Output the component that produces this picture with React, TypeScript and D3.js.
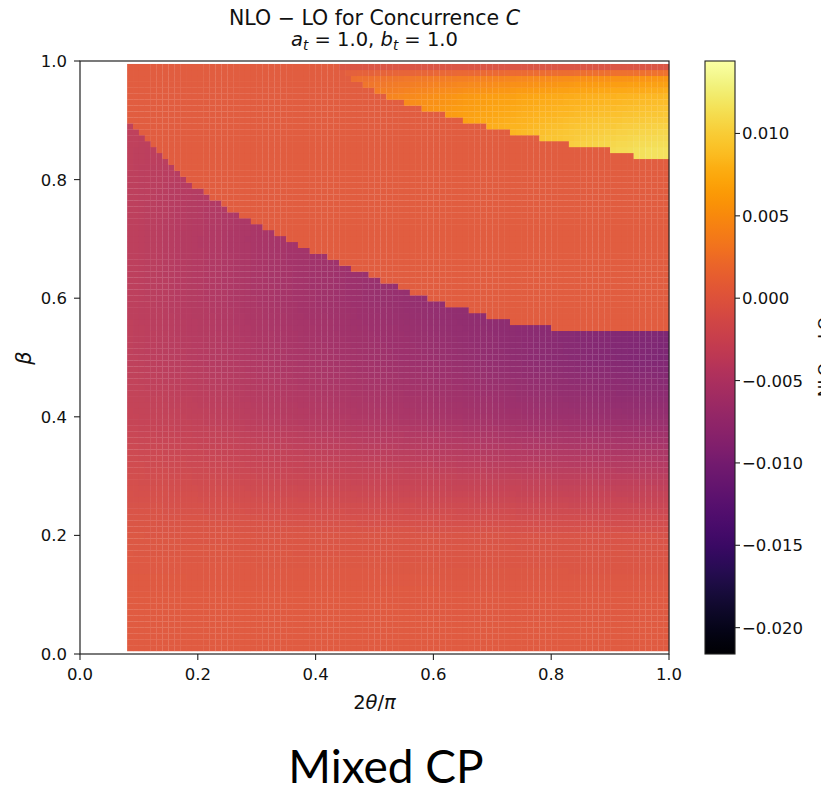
import React from "react";
import * as d3 from "d3";

// ---- data ----
// lower (purple) region: cells with beta below this boundary
const lowerBoundaryX = [0.08, 0.1, 0.15, 0.2, 0.25, 0.3, 0.35, 0.4, 0.45, 0.5, 0.55, 0.6, 0.65, 0.7, 0.75, 0.8, 0.85, 0.9, 0.95, 1.0];
const lowerBoundaryBeta = [0.9, 0.88, 0.83, 0.785, 0.752, 0.725, 0.7, 0.677, 0.655, 0.635, 0.615, 0.597, 0.582, 0.568, 0.556, 0.55, 0.545, 0.541, 0.541, 0.541];

// upper (yellow) region: cells with beta above this boundary
const upperBoundaryX = [0.44, 0.47, 0.5, 0.55, 0.6, 0.65, 0.7, 0.75, 0.8, 0.85, 0.9, 0.93, 0.95, 1.0];
const upperBoundaryBeta = [0.99, 0.965, 0.95, 0.93, 0.915, 0.9, 0.887, 0.875, 0.865, 0.857, 0.85, 0.846, 0.838, 0.838];

// field values sampled in the lower region (rows = beta, cols = x)
const lowFieldX = [0.08, 0.2, 0.35, 0.5, 0.65, 0.8, 1.0];
const lowFieldBeta = [0.0, 0.1, 0.2, 0.3, 0.4, 0.5, 0.6, 0.7, 0.8, 0.9];
const lowFieldValues = [
  [0.0003, 0.0003, 0.0003, 0.0003, 0.0003, 0.0003, 0.0003],
  [0.0002, 0.0002, 0.0002, 0.0002, 0.0001, 0.0001, 0.0001],
  [-0.0002, -0.0003, -0.0004, -0.0005, -0.0006, -0.0007, -0.0008],
  [-0.0014, -0.0018, -0.0024, -0.0028, -0.0032, -0.0036, -0.004],
  [-0.0028, -0.0034, -0.0044, -0.0052, -0.006, -0.0068, -0.0075],
  [-0.0035, -0.0043, -0.0054, -0.0064, -0.0074, -0.0085, -0.0096],
  [-0.0036, -0.0046, -0.0059, -0.0071, -0.008, -0.0088, -0.0096],
  [-0.0036, -0.0047, -0.006, -0.0071, -0.008, -0.0088, -0.0096],
  [-0.0036, -0.0045, -0.0058, -0.0068, -0.0078, -0.0086, -0.0094],
  [-0.0034, -0.0042, -0.0054, -0.0065, -0.0075, -0.0084, -0.0092],
];

// field values sampled in the upper region
const upFieldX = [0.44, 0.55, 0.65, 0.75, 0.85, 0.95, 1.0];
const upFieldBeta = [0.83, 0.85, 0.88, 0.91, 0.94, 0.97, 0.99];
const upFieldValues = [
  [0.0036, 0.0056, 0.0074, 0.009, 0.0104, 0.0114, 0.0116],
  [0.0036, 0.0056, 0.0074, 0.009, 0.0104, 0.0114, 0.0116],
  [0.0035, 0.0053, 0.007, 0.0084, 0.0097, 0.0105, 0.0107],
  [0.0033, 0.005, 0.0064, 0.0076, 0.0086, 0.0093, 0.0095],
  [0.003, 0.0045, 0.0058, 0.0068, 0.0076, 0.0082, 0.0084],
  [0.002, 0.003, 0.0038, 0.0045, 0.0052, 0.0056, 0.0058],
  [-0.0005, -0.0005, -0.0005, -0.0005, -0.0005, -0.0005, -0.0005],
];

const middleValue = 0.0004;

const xTicks = [0.0, 0.2, 0.4, 0.6, 0.8, 1.0];
const yTicks = [0.0, 0.2, 0.4, 0.6, 0.8, 1.0];
const cbTicks = [0.01, 0.005, 0.0, -0.005, -0.01, -0.015, -0.02];
const cbDomain = [-0.0216, 0.0144];
const thetaRange = [0.08, 1.0];
const betaRange = [0.005, 0.995];
const cellStep = 0.01;

// ---- helpers ----
function interp1(xs: number[], ys: number[], x: number) {
  if (x <= xs[0]) return ys[0];
  if (x >= xs[xs.length - 1]) return ys[ys.length - 1];
  const i = d3.bisectRight(xs, x) - 1;
  const t = (x - xs[i]) / (xs[i + 1] - xs[i]);
  return ys[i] + t * (ys[i + 1] - ys[i]);
}
function lookup2(xs: number[], bs: number[], grid: number[][], x: number, b: number) {
  const rows = grid.map((row) => interp1(xs, row, x));
  return interp1(bs, rows, b);
}
function fieldValue(x: number, b: number) {
  const U = x >= upperBoundaryX[0] ? interp1(upperBoundaryX, upperBoundaryBeta, x) : 2;
  const L = interp1(lowerBoundaryX, lowerBoundaryBeta, x);
  if (b > U) return lookup2(upFieldX, upFieldBeta, upFieldValues, x, b);
  if (b < L) return lookup2(lowFieldX, lowFieldBeta, lowFieldValues, x, b);
  return middleValue;
}

const fmt1 = d3.format(".1f");
const fmtCb = (v: number) => d3.format(".3f")(v).replace("-", "\u2212");

export default function App() {
  const left = 80, right = 669, top = 61, bottom = 654;
  const xs = d3.scaleLinear().domain([0, 1]).range([left, right]);
  const ys = d3.scaleLinear().domain([0, 1]).range([bottom, top]);
  const color = d3.scaleSequential(d3.interpolateInferno).domain(cbDomain as [number, number]);

  const nx = Math.round((thetaRange[1] - thetaRange[0]) / cellStep);
  const ny = Math.round((betaRange[1] - betaRange[0]) / cellStep);
  const cells: { x0: number; x1: number; y0: number; y1: number; c: string }[] = [];
  for (let i = 0; i < nx; i++) {
    const xa = thetaRange[0] + i * cellStep;
    const xc = xa + cellStep / 2;
    for (let j = 0; j < ny; j++) {
      const ba = betaRange[0] + j * cellStep;
      const bc = ba + cellStep / 2;
      cells.push({ x0: xs(xa), x1: xs(xa + cellStep), y0: ys(ba + cellStep), y1: ys(ba), c: color(fieldValue(xc, bc)) });
    }
  }
  const ov = 0.2;

  const cbLeft = 705, cbRight = 735;
  const cy = d3.scaleLinear().domain(cbDomain).range([bottom, top]);
  const stops = d3.range(0, 1.0001, 0.02);

  const font = "DejaVu Sans, sans-serif";
  return (
    <div style={{ position: "absolute", left: 0, top: 0 }}>
      <svg width={821} height={793} style={{ display: "block", background: "#fff" }} fontFamily={font}>
        <defs>
          <linearGradient id="cbgrad" x1="0" y1="1" x2="0" y2="0">
            {stops.map((s) => (
              <stop key={s} offset={s} stopColor={d3.interpolateInferno(s)} />
            ))}
          </linearGradient>
        </defs>
        {/* title */}
        <text x={374.5} y={25} textAnchor="middle" fontSize={20.5} fill="#111">
          NLO − LO for Concurrence <tspan fontStyle="italic">C</tspan>
        </text>
        <text x={374.5} y={46} textAnchor="middle" fontSize={19.5} fill="#111">
          <tspan fontStyle="italic">a</tspan>
          <tspan fontStyle="italic" fontSize={13.5} dy={4}>t</tspan>
          <tspan dy={-4}> = 1.0, </tspan>
          <tspan fontStyle="italic">b</tspan>
          <tspan fontStyle="italic" fontSize={13.5} dy={4}>t</tspan>
          <tspan dy={-4}> = 1.0</tspan>
        </text>

        {/* heatmap */}
        <g opacity={0.95}>
          {cells.map((d, k) => (
            <rect key={k} x={d.x0} y={d.y0} width={d.x1 - d.x0 + ov} height={d.y1 - d.y0 + ov} fill={d.c} />
          ))}
        </g>

        {/* frame */}
        <rect x={left} y={top} width={right - left} height={bottom - top} fill="none" stroke="#222" strokeWidth={1.2} />

        {/* x axis */}
        {xTicks.map((t) => (
          <g key={"x" + t}>
            <line x1={xs(t)} x2={xs(t)} y1={bottom} y2={bottom + 6} stroke="#222" strokeWidth={1.1} />
            <text x={xs(t)} y={680} textAnchor="middle" fontSize={16.5} fill="#111">{fmt1(t)}</text>
          </g>
        ))}
        <text x={374.5} y={709} textAnchor="middle" fontSize={19.5} fill="#111">
          2<tspan fontStyle="italic">θ</tspan>/<tspan fontStyle="italic">π</tspan>
        </text>

        {/* y axis */}
        {yTicks.map((t) => (
          <g key={"y" + t}>
            <line x1={left - 6} x2={left} y1={ys(t)} y2={ys(t)} stroke="#222" strokeWidth={1.1} />
            <text x={67} y={ys(t) + 6} textAnchor="end" fontSize={16.5} fill="#111">{fmt1(t)}</text>
          </g>
        ))}
        <text transform="translate(31,358) rotate(-90)" textAnchor="middle" fontSize={21} fontStyle="italic" fill="#111">β</text>

        {/* colorbar */}
        <rect x={cbLeft} y={top} width={cbRight - cbLeft} height={bottom - top} fill="url(#cbgrad)" stroke="#222" strokeWidth={1.1} />
        {cbTicks.map((t) => (
          <g key={"c" + t}>
            <line x1={cbRight} x2={cbRight + 5} y1={cy(t)} y2={cy(t)} stroke="#222" strokeWidth={1.1} />
            <text x={742} y={cy(t) + 6} fontSize={16.5} fill="#111">{fmtCb(t)}</text>
          </g>
        ))}
        <text transform="translate(830,357) rotate(-90)" textAnchor="middle" fontSize={16.5} fill="#111">NLO − LO</text>

        {/* caption */}
        <text x={386} y={783} textAnchor="middle" fontSize={46} fontFamily="Lato, sans-serif" fill="#000">Mixed CP</text>
      </svg>
    </div>
  );
}
